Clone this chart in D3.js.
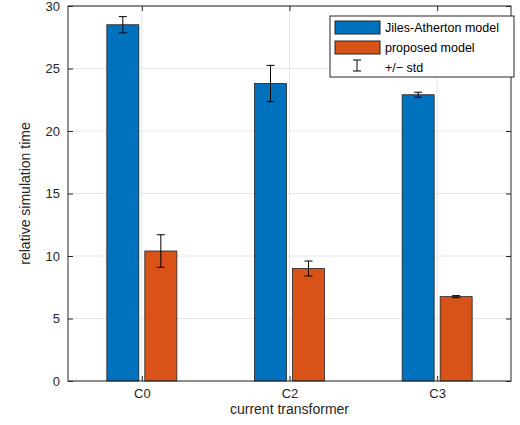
<!DOCTYPE html><html><head><script src="https://d3js.org/d3.v7.min.js"></script>
<style>body{margin:0;background:#fff}text{font-family:"Liberation Sans",Arial,sans-serif}</style></head><body>
<script>
const categories=["C0","C2","C3"];
const jaMean=[28.5,23.8,22.9];
const jaStd=[0.65,1.45,0.2];
const propMean=[10.4,9.0,6.75];
const propStd=[1.3,0.6,0.08];
const yTicks=[0,5,10,15,20,25,30];
const W=520,H=425,L=68,R=511,T=6,B=381;
const svg=d3.select("body").append("svg").attr("width",W).attr("height",H);
const x=d3.scaleLinear().domain([0.5,3.5]).range([L,R]);
const y=d3.scaleLinear().domain([0,30]).range([B,T]);
const g=svg.append("g");
// grid
yTicks.forEach(t=>g.append("line").attr("x1",L).attr("x2",R).attr("y1",y(t)).attr("y2",y(t)).attr("stroke","#e6e6e6"));
categories.forEach((c,i)=>g.append("line").attr("x1",x(i+1)).attr("x2",x(i+1)).attr("y1",T).attr("y2",B).attr("stroke","#e6e6e6"));
const bw=32,off=19;
const series=[{m:jaMean,s:jaStd,c:"#0072bd",d:-off},{m:propMean,s:propStd,c:"#d95319",d:off}];
series.forEach(se=>{
  se.m.forEach((v,i)=>{
    const cx=x(i+1)+se.d;
    g.append("rect").attr("x",cx-bw/2).attr("y",y(v)).attr("width",bw).attr("height",y(0)-y(v)).attr("fill",se.c).attr("stroke","#222").attr("stroke-width",0.8);
    const lo=y(v-se.s[i]),hi=y(v+se.s[i]);
    g.append("line").attr("x1",cx).attr("x2",cx).attr("y1",lo).attr("y2",hi).attr("stroke","#000");
    [lo,hi].forEach(yy=>g.append("line").attr("x1",cx-4).attr("x2",cx+4).attr("y1",yy).attr("y2",yy).attr("stroke","#000"));
  });
});
g.append("rect").attr("x",L).attr("y",T).attr("width",R-L).attr("height",B-T).attr("fill","none").attr("stroke","#262626");
const ya=d3.axisLeft(y).tickValues(yTicks).tickSize(-5).tickPadding(8);
svg.append("g").attr("transform",`translate(${L},0)`).call(ya).call(a=>{a.select(".domain").remove();a.selectAll("text").attr("font-size",13).attr("fill","#262626").attr("font-family","Liberation Sans");a.selectAll("line").attr("stroke","#262626")});
svg.append("g").attr("transform",`translate(${R},0)`).call(d3.axisRight(y).tickValues(yTicks).tickSize(-5).tickFormat("")).call(a=>{a.select(".domain").remove();a.selectAll("line").attr("stroke","#262626")});
const xa=d3.axisBottom(x).tickValues([1,2,3]).tickFormat((d)=>categories[d-1]).tickSize(-5).tickPadding(8);
svg.append("g").attr("transform",`translate(0,${B})`).call(xa).call(a=>{a.select(".domain").remove();a.selectAll("text").attr("font-size",13).attr("fill","#262626").attr("font-family","Liberation Sans");a.selectAll("line").attr("stroke","#262626")});
svg.append("g").attr("transform",`translate(0,${T})`).call(d3.axisTop(x).tickValues([1,2,3]).tickSize(-5).tickFormat("")).call(a=>{a.select(".domain").remove();a.selectAll("line").attr("stroke","#262626")});
svg.append("text").attr("x",(L+R)/2).attr("y",414).attr("text-anchor","middle").attr("font-size",14).attr("fill","#262626").text("current transformer");
svg.append("text").attr("transform",`translate(30,${(T+B)/2}) rotate(-90)`).attr("text-anchor","middle").attr("font-size",14).attr("fill","#262626").text("relative simulation time");
// legend
const lg=svg.append("g").attr("transform","translate(330,16)");
lg.append("rect").attr("width",184).attr("height",61).attr("fill","#fff").attr("stroke","#262626");
lg.append("rect").attr("x",5).attr("y",5).attr("width",45).attr("height",13).attr("fill",series[0].c).attr("stroke","#222");
lg.append("rect").attr("x",5).attr("y",25).attr("width",45).attr("height",13).attr("fill",series[1].c).attr("stroke","#222");
const ex=27;
lg.append("line").attr("x1",ex).attr("x2",ex).attr("y1",44).attr("y2",55).attr("stroke","#000");
[44,55].forEach(v=>lg.append("line").attr("x1",ex-4).attr("x2",ex+4).attr("y1",v).attr("y2",v).attr("stroke","#000"));
["Jiles-Atherton model","proposed model","+/\u2212 std"].forEach((t,i)=>lg.append("text").attr("x",55).attr("y",16+i*20).attr("font-size",12.5).attr("fill","#000").text(t));
</script></body></html>
